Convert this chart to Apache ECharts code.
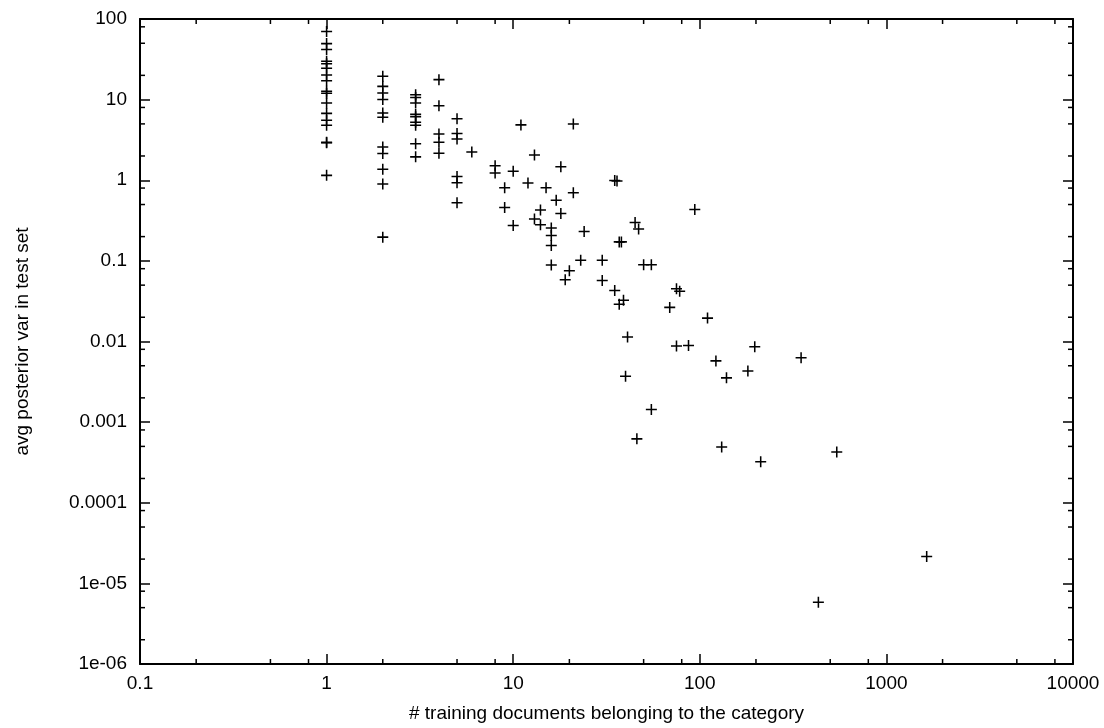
<!DOCTYPE html>
<html>
<head>
<meta charset="utf-8">
<script src="https://cdn.jsdelivr.net/npm/echarts@6/dist/echarts.min.js"></script>
<style>
  html, body { margin: 0; padding: 0; background: #fff; }
  #chart { width: 1104px; height: 728px; }
</style>
</head>
<body>
<div id="chart"></div>
<script>
// number of training docs per category (x) and avg posterior variance (y)
const trainDocs = [
  1, 1, 1, 1, 1, 1, 1, 1, 1, 1, 1, 1, 1, 1, 1, 1, 1,
  2, 2, 2, 2, 2, 2, 2, 2, 2, 2, 2,
  3, 3, 3, 3, 3, 3, 3, 3, 3,
  4, 4, 4, 4, 4,
  5, 5, 5, 5, 5, 5,
  6, 8, 8, 9, 9, 10, 10, 11, 12, 13, 13, 14, 14, 15,
  16, 16, 16, 16, 17, 18, 18, 19, 20, 21, 21, 23, 24,
  30, 30, 35, 36, 35, 37, 38, 37, 39, 40, 41, 45, 46, 47,
  50, 55, 55, 69, 75, 75, 78, 87, 94,
  110, 122, 131, 139, 181, 197, 212, 349, 432, 542, 1644
];
const postVar = [
  70, 49.5, 41.9, 29.9, 27.9, 24.5, 20.2, 17.1, 12.7, 12.0, 9.06, 6.75, 5.54, 4.82, 2.95, 2.92, 1.15,
  19.5, 14.6, 12.1, 10.05, 6.81, 6.03, 2.58, 2.15, 1.37, 0.90, 0.197,
  11.5, 10.6, 9.06, 6.56, 6.12, 5.25, 4.82, 2.83, 1.95,
  17.7, 8.38, 3.74, 2.96, 2.16,
  5.78, 3.80, 3.25, 1.11, 0.93, 0.525,
  2.24, 1.51, 1.23, 0.806, 0.459, 1.29, 0.275, 4.86, 0.927, 2.06, 0.33, 0.427, 0.28, 0.806,
  0.255, 0.206, 0.155, 0.0887, 0.565, 1.47, 0.388, 0.0582, 0.0755, 5.0, 0.70, 0.102, 0.232,
  0.102, 0.057, 0.99, 0.98, 0.043, 0.172, 0.172, 0.029, 0.0325, 0.00371, 0.0114, 0.299, 0.00062, 0.248,
  0.0893, 0.0893, 0.00143, 0.0265, 0.0452, 0.0088, 0.0419, 0.0089, 0.434,
  0.0195, 0.00575, 0.00049, 0.00354, 0.0043, 0.0086, 0.000323, 0.0063, 5.82e-6, 0.000427, 2.15e-5
];

const xTickLabels = ['0.1', '1', '10', '100', '1000', '10000'];
const yTickLabels = ['1e-06', '1e-05', '0.0001', '0.001', '0.01', '0.1', '1', '10', '100'];
const minorSteps = [2, 5, 8];
const xDecades = [0.1, 1, 10, 100, 1000];
const yDecades = [1e-6, 1e-5, 1e-4, 1e-3, 0.01, 0.1, 1, 10];

const font = 'Liberation Sans, Arial, Helvetica, sans-serif';

const chart = echarts.init(document.getElementById('chart'));

const points = trainDocs.map((x, i) => [x, postVar[i]]);

// minor ticks: [value, 0] for x axis, [value, 1] for y axis
const minorTicks = [];
xDecades.forEach(d => minorSteps.forEach(s => minorTicks.push([d * s, 0])));
yDecades.forEach(d => minorSteps.forEach(s => minorTicks.push([d * s, 1])));

function expOf(v) { return Math.round(Math.log10(v)); }

const axisLineStyle = { color: '#000', width: 2 };

function xAxisCfg(pos, showLabel) {
  return {
    type: 'log', logBase: 10, min: 0.1, max: 10000, interval: 1,
    position: pos,
    name: showLabel ? '# training documents belonging to the category' : '',
    nameLocation: 'middle', nameGap: 40,
    nameTextStyle: { color: '#000', fontFamily: font, fontSize: 19 },
    axisLine: { show: true, onZero: false, lineStyle: axisLineStyle },
    axisTick: { show: true, inside: true, length: 10, lineStyle: { color: '#000', width: 1.5 } },
    axisLabel: {
      show: showLabel, color: '#000', fontFamily: font, fontSize: 19, margin: 10,
      formatter: v => xTickLabels[expOf(v) + 1]
    },
    splitLine: { show: false },
    minorTick: { show: false }
  };
}

function yAxisCfg(pos, showLabel) {
  return {
    type: 'log', logBase: 10, min: 1e-6, max: 100, interval: 1,
    position: pos,
    name: showLabel ? 'avg posterior var in test set' : '',
    nameLocation: 'middle', nameGap: 108, nameRotate: 90,
    nameTextStyle: { color: '#000', fontFamily: font, fontSize: 19 },
    axisLine: { show: true, onZero: false, lineStyle: axisLineStyle },
    axisTick: { show: true, inside: true, length: 10, lineStyle: { color: '#000', width: 1.5 } },
    axisLabel: {
      show: showLabel, color: '#000', fontFamily: font, fontSize: 19, margin: 13,
      formatter: v => yTickLabels[expOf(v) + 6]
    },
    splitLine: { show: false },
    minorTick: { show: false }
  };
}

const option = {
  animation: false,
  backgroundColor: '#fff',
  grid: { left: 140, right: 31, top: 19, bottom: 53, containLabel: false },
  xAxis: [xAxisCfg('bottom', true), xAxisCfg('top', false)],
  yAxis: [yAxisCfg('left', true), yAxisCfg('right', false)],
  series: [
    {
      type: 'custom',
      silent: true,
      xAxisIndex: 0, yAxisIndex: 0,
      data: minorTicks,
      renderItem: function (params, api) {
        const cs = params.coordSys;
        const v = api.value(0);
        const kind = api.value(1);
        const len = 5;
        const style = { stroke: '#000', lineWidth: 1.5 };
        if (kind === 0) {
          const px = api.coord([v, 1])[0];
          return {
            type: 'group', children: [
              { type: 'line', shape: { x1: px, y1: cs.y + cs.height, x2: px, y2: cs.y + cs.height - len }, style },
              { type: 'line', shape: { x1: px, y1: cs.y, x2: px, y2: cs.y + len }, style }
            ]
          };
        }
        const py = api.coord([1, v])[1];
        return {
          type: 'group', children: [
            { type: 'line', shape: { x1: cs.x, y1: py, x2: cs.x + len, y2: py }, style },
            { type: 'line', shape: { x1: cs.x + cs.width, y1: py, x2: cs.x + cs.width - len, y2: py }, style }
          ]
        };
      }
    },
    {
      type: 'scatter',
      xAxisIndex: 0, yAxisIndex: 0,
      data: points,
      symbol: 'path://M4.3,0h1.4v4.3h4.3v1.4h-4.3v4.3h-1.4v-4.3h-4.3v-1.4h4.3z',
      symbolSize: 11,
      itemStyle: { color: '#000', opacity: 1 },
      silent: true
    }
  ]
};

chart.setOption(option);
</script>
</body>
</html>
